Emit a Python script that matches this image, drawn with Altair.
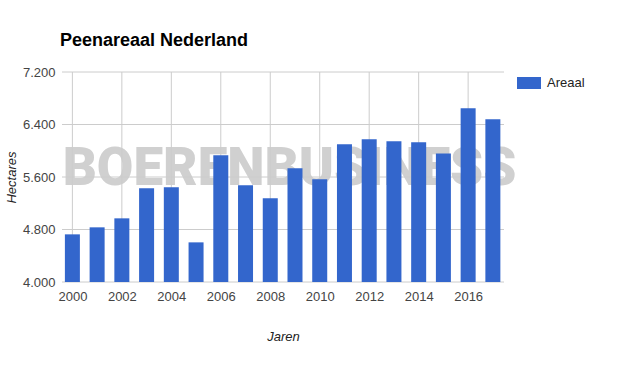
import altair as alt
import pandas as pd

# ---- data ----
years = list(range(2000, 2018))
areaal = [4726, 4833, 4970, 5427, 5442, 4604, 5930, 5473, 5275, 5732,
          5564, 6098, 6174, 6143, 6128, 5960, 6646, 6479]
y_ticks = [4000, 4800, 5600, 6400, 7200]
x_ticks = [2000, 2002, 2004, 2006, 2008, 2010, 2012, 2014, 2016]
series_name = "Areaal"
title_text = "Peenareaal Nederland"
x_title = "Jaren"
y_title = "Hectares"
watermark = "BOERENBUSINESS"

df = pd.DataFrame({"Jaar": years, "Areaal": areaal, "serie": [series_name] * len(years)})
df_y = pd.DataFrame({"Areaal": y_ticks})
df_x = pd.DataFrame({"Jaar": x_ticks})
df_w = pd.DataFrame({"t": [watermark]})

W, H = 442, 210
xscale = alt.Scale(domain=[1999.58, 2017.45], nice=False, zero=False, padding=0)
yscale = alt.Scale(domain=[4000, 7200], nice=False, zero=False, padding=0)
GRID = "#cccccc"
FONT = "Liberation Sans"

xaxis = alt.Axis(values=x_ticks, format="d", grid=False, ticks=False, domain=False,
                 labelFontSize=13, labelColor="#444444", labelFont=FONT,
                 labelPadding=8, title=x_title, titleFont=FONT, titleFontSize=13,
                 titleFontStyle="italic", titleFontWeight="normal", titleColor="#222222",
                 titleX=221, titleY=54, titleBaseline="middle", titleAlign="center")
yaxis = alt.Axis(values=y_ticks, grid=False, ticks=False, domain=False,
                 labelExpr="replace(format(datum.value, ',.0f'), ',', '.')",
                 labelFontSize=13, labelColor="#444444", labelFont=FONT, labelPadding=7,
                 title=y_title, titleFont=FONT, titleFontSize=13,
                 titleFontStyle="italic", titleFontWeight="normal", titleColor="#222222",
                 titleX=-51, titleY=105, titleAngle=-90, titleAlign="center",
                 titleBaseline="middle")

wm = alt.Chart(df_w).mark_text(
    font="Roboto", fontWeight=900, fontSize=53, color="#d0d0d0",
    align="center", baseline="middle"
).encode(text="t:N", x=alt.value(227.5), y=alt.value(97))

ygrid = alt.Chart(df_y).mark_rule(color=GRID, strokeWidth=1).encode(
    y=alt.Y("Areaal:Q", scale=yscale, axis=yaxis)
)
xgrid = alt.Chart(df_x).mark_rule(color=GRID, strokeWidth=1).encode(
    x=alt.X("Jaar:Q", scale=xscale, axis=xaxis)
)

bars = alt.Chart(df).mark_bar(size=15).encode(
    x=alt.X("Jaar:Q", scale=xscale, axis=xaxis),
    y=alt.Y("Areaal:Q", scale=yscale, axis=yaxis),
    y2=alt.datum(4000),
    color=alt.Color("serie:N", scale=alt.Scale(domain=[series_name], range=["#3366cc"]),
                    legend=alt.Legend(orient="none", legendX=455, legendY=-1, title=None,
                                      symbolType="M-1,-0.5H1V0.5H-1Z", symbolSize=576,
                                      symbolStrokeWidth=0, symbolOpacity=1,
                                      labelFontSize=13, labelFont=FONT, labelColor="#222222",
                                      labelOffset=6)),
)

chart = alt.layer(wm, ygrid, xgrid, bars).properties(
    width=W, height=H,
    background="white",
    title=alt.TitleParams(title_text, anchor="start", frame="group", font=FONT, fontSize=18,
                          fontWeight="bold", color="#000000", offset=16, dx=-2),
    autosize=alt.AutoSizeParams(type="none"),
    padding={"left": 62, "top": 72, "right": 121, "bottom": 94},
).configure_view(strokeWidth=0, stroke="transparent")

chart.save("out.html", embed_options={"renderer": "svg", "actions": False})
